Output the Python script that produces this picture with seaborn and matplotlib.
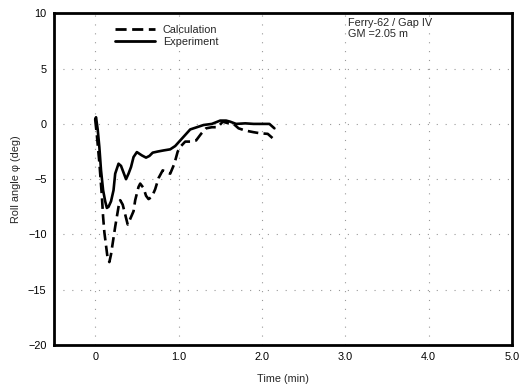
import matplotlib
matplotlib.use("Agg")
import matplotlib.pyplot as plt
import seaborn as sns
import pandas as pd
from matplotlib.lines import Line2D

# Data
calc_t = [0.0, 0.02, 0.05, 0.08, 0.095, 0.11, 0.13, 0.15, 0.17, 0.19,
          0.21, 0.24, 0.28, 0.30, 0.33, 0.36, 0.39, 0.42, 0.46, 0.48,
          0.52, 0.54, 0.58, 0.61, 0.64, 0.68, 0.72, 0.76, 0.81, 0.86,
          0.90, 0.95, 0.99, 1.03, 1.08, 1.14, 1.21, 1.27, 1.33, 1.40,
          1.47, 1.53, 1.60, 1.66, 1.72, 1.80, 1.90, 1.98, 2.07, 2.13]
calc_y = [0.4, -1.0, -3.5, -6.5, -8.4, -9.8, -11.0, -12.2, -12.5, -11.8,
          -10.8, -9.3, -7.5, -6.9, -7.3, -8.2, -9.1, -8.6, -7.9, -6.9,
          -5.7, -5.4, -5.8, -6.5, -6.8, -6.6, -5.9, -4.9, -4.2, -4.4,
          -4.5, -3.6, -2.5, -2.0, -1.6, -1.6, -1.5, -0.9, -0.4, -0.3,
          -0.3, 0.2, 0.05, 0.0, -0.4, -0.6, -0.75, -0.85, -0.9, -1.3]
exp_t = [0.0, 0.01, 0.03, 0.05, 0.07, 0.095, 0.12, 0.14, 0.16, 0.19,
         0.22, 0.24, 0.28, 0.31, 0.34, 0.37, 0.40, 0.43, 0.46, 0.50,
         0.56, 0.61, 0.65, 0.69, 0.75, 0.82, 0.90, 0.96, 1.02, 1.08,
         1.14, 1.22, 1.30, 1.40, 1.50, 1.57, 1.62, 1.69, 1.80, 1.90,
         2.00, 2.09, 2.15]
exp_y = [0.4, 0.6, -0.5, -2.1, -4.2, -6.0, -7.0, -7.6, -7.5, -7.0,
         -6.0, -4.5, -3.6, -3.8, -4.4, -5.0, -4.5, -3.9, -3.0, -2.55,
         -2.85, -3.05, -2.9, -2.6, -2.5, -2.4, -2.3, -2.0, -1.5, -1.0,
         -0.5, -0.3, -0.1, 0.0, 0.3, 0.3, 0.2, 0.0, 0.05, 0.0,
         0.0, 0.0, -0.4]
series_names = ["Calculation", "Experiment"]
x_ticks = [0, 1, 2, 3, 4, 5]
x_ticklabels = ["0", "1.0", "2.0", "3.0", "4.0", "5.0"]
y_ticks = [10, 5, 0, -5, -10, -15, -20]

df = pd.concat([
    pd.DataFrame({"t": calc_t, "roll": calc_y, "series": series_names[0]}),
    pd.DataFrame({"t": exp_t, "roll": exp_y, "series": series_names[1]}),
], ignore_index=True)

sns.set_style("white")
plt.rcParams["font.family"] = ["Liberation Sans", "DejaVu Sans"]
FS = 7.8
plt.rcParams["font.size"] = FS

fig = plt.figure(figsize=(5.21, 3.87), dpi=100)
ax = fig.add_axes([0.1027, 0.1085, 0.88, 0.857])

sns.lineplot(data=df, x="t", y="roll", hue="series", style="series",
             palette={"Calculation": "black", "Experiment": "black"},
             dashes={"Calculation": (4, 2), "Experiment": ""},
             sort=False, estimator=None, linewidth=1.9, ax=ax, legend=False)

ax.set_xlim(-0.5, 5.0)
ax.set_ylim(-20, 10)
ax.set_xticks(x_ticks)
ax.set_xticklabels(x_ticklabels)
ax.set_yticks(y_ticks)
ax.tick_params(length=0, labelsize=FS, pad=5, colors="black")
ax.grid(True, color="#999999", linestyle=(0, (1, 7)), linewidth=0.8)
for s in ax.spines.values():
    s.set_linewidth(2.0)
    s.set_color("black")

ax.set_xlabel("Time (min)", fontsize=FS, labelpad=9)
ax.set_ylabel("Roll angle \u03c6 (deg)", fontsize=FS, labelpad=5)

handles = [Line2D([], [], color="black", lw=2.0, dashes=(4, 2)),
           Line2D([], [], color="black", lw=2.0)]
ax.legend(handles, series_names, loc="upper left",
          bbox_to_anchor=(0.118, 0.988), frameon=False, fontsize=FS,
          handlelength=3.7, handletextpad=0.7, labelspacing=0.15,
          borderpad=0.2)

ax.text(0.643, 0.985, "Ferry-62 / Gap IV\nGM =2.05 m", transform=ax.transAxes,
        ha="left", va="top", fontsize=FS, linespacing=1.05)

fig.savefig("out.png", dpi=100)
